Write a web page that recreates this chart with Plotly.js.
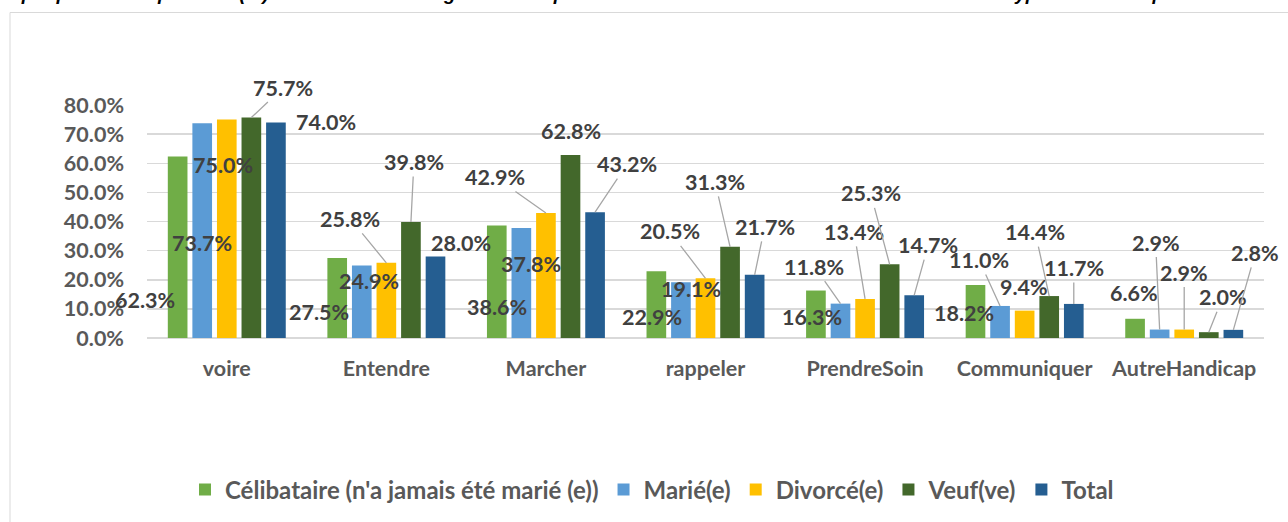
<!DOCTYPE html>
<html>
<head>
<meta charset="utf-8">
<script src="https://cdn.plot.ly/plotly-3.0.1.min.js"></script>
<style>
html,body{margin:0;padding:0;background:#fff;}
#chart{width:1288px;height:522px;}
</style>
</head>
<body>
<div id="chart"></div>
<script>
// ---- data ----
var categories = ["voire", "Entendre", "Marcher", "rappeler", "PrendreSoin", "Communiquer", "AutreHandicap"];
var seriesNames = ["Célibataire (n'a jamais été marié (e))", "Marié(e)", "Divorcé(e)", "Veuf(ve)", "Total"];
var celibataire = [62.3, 27.5, 38.6, 22.9, 16.3, 18.2, 6.6];
var marie       = [73.7, 24.9, 37.8, 19.1, 11.8, 11.0, 2.9];
var divorce     = [75.0, 25.8, 42.9, 20.5, 13.4, 9.4, 2.9];
var veuf        = [75.7, 39.8, 62.8, 31.3, 25.3, 14.4, 2.0];
var total       = [74.0, 28.0, 43.2, 21.7, 14.7, 11.7, 2.8];
var yTickVals   = [0, 10, 20, 30, 40, 50, 60, 70, 80];
var titleText = "Graphique 45: : Répartition (%) des chefs de ménages handicapés résidents selon la situation matrimoniale et le type de handicap.";

// ---- styling ----
var colors = ["#70AD47", "#5B9BD5", "#FFC000", "#43682B", "#255E91"];
var allSeries = [celibataire, marie, divorce, veuf, total];

// label offsets (pixels, label centre relative to bar top) and leader-line flags, per series x category
var labelDx = [
  [-33, -18, 0, -4, -4, -11, -1],
  [0, 7, 10, 10, -26, -21, -4],
  [-4, -36, -51, -36, -11, -1, 0],
  [32, 3, 0, -15, -19, -14, 14],
  [50, 25, 32, 10, 14, 0, 22]
];
var labelDy = [
  [143, 54, 81, 46, 26, 28, -26],
  [120, 16, 36, 7, -37, -46, -87],
  [45, -44, -36, -47, -67, -24, -57],
  [-30, -60, -24, -65, -71, -64, -35],
  [0, -13, -48, -48, -50, -36, -77]
];
var leader = [
  [0, 0, 0, 0, 0, 0, 0],
  [0, 0, 0, 0, 1, 1, 1],
  [0, 1, 1, 1, 1, 0, 1],
  [1, 1, 0, 1, 1, 1, 1],
  [0, 0, 1, 1, 1, 1, 1]
];

var W = 1288, H = 522;
var mL = 147, mR = 24, mT = 105, mB = 184;
var plotW = W - mL - mR, plotH = H - mT - mB;
var bargap = 0.23, bargroupgap = 0.2;
var slot = (1 - bargap) * (plotW / categories.length) / seriesNames.length;

var FONT = "Lato, 'Open Sans', sans-serif";
var FS = 21.5;

var traces = seriesNames.map(function (name, i) {
  return {
    type: "bar",
    name: name,
    x: categories,
    y: allSeries[i],
    marker: { color: colors[i] },
    hoverinfo: "skip"
  };
});

var annotations = [];
for (var s = 0; s < seriesNames.length; s++) {
  for (var c = 0; c < categories.length; c++) {
    annotations.push({
      x: categories[c],
      y: allSeries[s][c],
      xref: "x", yref: "y",
      xshift: (s - 2) * slot,
      text: allSeries[s][c].toFixed(1) + "%",
      showarrow: true,
      arrowhead: 0,
      arrowwidth: 1.3,
      arrowcolor: leader[s][c] ? "#A6A6A6" : "rgba(0,0,0,0)",
      standoff: 0,
      ax: labelDx[s][c],
      ay: labelDy[s][c],
      font: { family: FONT, size: FS, color: "#404040", weight: "bold" }
    });
  }
}
// cut-off caption at top
annotations.push({
  xref: "paper", yref: "paper",
  x: (-12 - mL) / plotW, y: 1,
  xanchor: "left", yanchor: "bottom",
  yshift: mT - 5,
  text: titleText,
  showarrow: false,
  borderpad: 0,
  font: { family: "'Liberation Sans Narrow', 'Liberation Sans', sans-serif", size: 19, color: "#000000", weight: "bold", style: "italic" }
});

var layout = {
  width: W, height: H,
  margin: { l: mL, r: mR, t: mT, b: mB, pad: 0, autoexpand: false },
  paper_bgcolor: "#ffffff",
  plot_bgcolor: "#ffffff",
  barmode: "group",
  bargap: bargap,
  bargroupgap: bargroupgap,
  showlegend: true,
  legend: {
    orientation: "h",
    x: (652 - mL) / plotW, xanchor: "center",
    y: (338 - 490) / plotH, yanchor: "middle",
    font: { family: FONT, size: 24, color: "#595959", weight: "bold" },
    itemclick: false,
    traceorder: "normal"
  },
  xaxis: {
    type: "category",
    range: [-0.5, categories.length - 0.5],
    autorange: false,
    automargin: false,
    showgrid: false,
    showline: false,
    zeroline: false,
    ticks: "",
    ticklabelstandoff: 15,
    tickfont: { family: FONT, size: FS, color: "#595959", weight: "bold" },
    fixedrange: true
  },
  yaxis: {
    range: [0, 80],
    autorange: false,
    automargin: false,
    tickvals: yTickVals,
    ticktext: yTickVals.map(function (v) { return v.toFixed(1) + "%"; }),
    showgrid: true,
    gridcolor: "#D9D9D9",
    gridwidth: 1.5,
    zeroline: true,
    zerolinecolor: "#D9D9D9",
    zerolinewidth: 1.5,
    showline: false,
    ticks: "",
    ticklabelstandoff: 22,
    tickfont: { family: FONT, size: FS, color: "#595959", weight: "bold" },
    fixedrange: true
  },
  shapes: [{
    type: "rect",
    xref: "paper", yref: "paper",
    x0: (10 - mL) / plotW, x1: (1300 - mL) / plotW,
    y0: (mT + plotH - 540) / plotH, y1: (mT + plotH - 12.5) / plotH,
    line: { color: "#D9D9D9", width: 1 },
    fillcolor: "rgba(0,0,0,0)",
    layer: "below"
  }],
  annotations: annotations
};

Plotly.newPlot("chart", traces, layout, { displayModeBar: false, staticPlot: true });
</script>
</body>
</html>
